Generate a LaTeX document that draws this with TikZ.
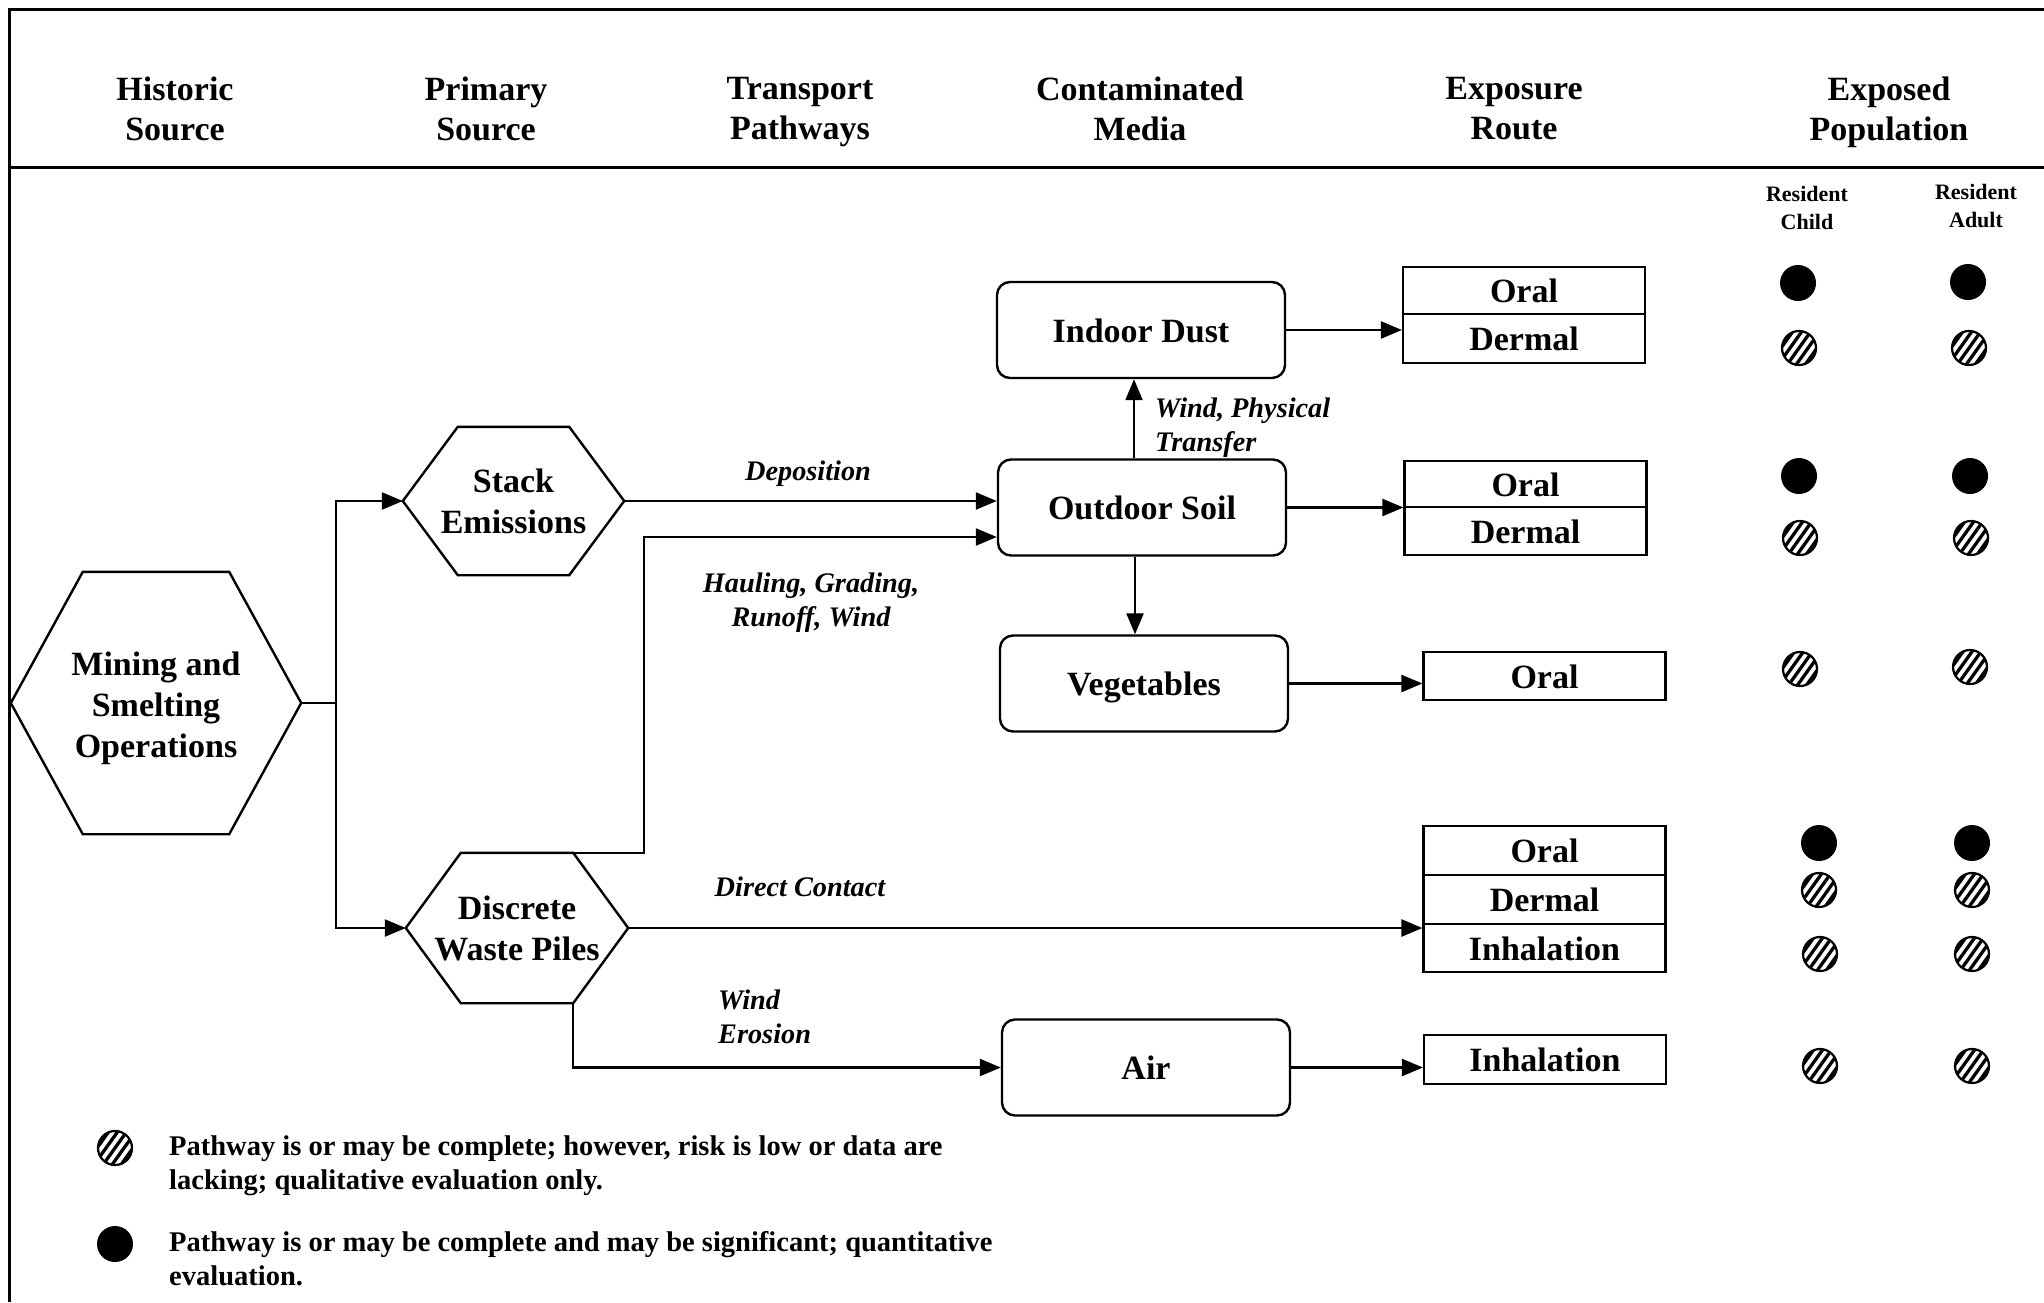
\documentclass[tikz,border=0pt]{standalone}
\usepackage{fontspec}
\setmainfont{Liberation Serif}
\usetikzlibrary{arrows.meta,calc}
\begin{document}
\begin{tikzpicture}[x=1pt,y=-1pt,
  every node/.style={inner sep=0pt},
  frame/.style={line width=3pt},
  hdr/.style={font=\fontsize{34}{40}\selectfont\bfseries, align=center, anchor=north},
  hexnode/.style={font=\fontsize{34}{41}\selectfont\bfseries, align=center},
  hexline/.style={line width=2.4pt, line join=miter},
  media/.style={draw, line width=2.4pt, rounded corners=13pt, minimum width=288pt, minimum height=96pt,
    font=\fontsize{34}{40}\selectfont\bfseries, text height=27pt, text depth=3pt},
  route/.style={draw, line width=2.2pt, minimum width=242pt,
    font=\fontsize{34}{40}\selectfont\bfseries, text height=27pt, text depth=3pt},
  lbl/.style={font=\fontsize{28.3}{34}\selectfont\bfseries\itshape},
  res/.style={font=\fontsize{22}{28}\selectfont\bfseries, align=center},
  leg/.style={font=\fontsize{28.5}{34}\selectfont\bfseries, align=left, anchor=west},
  conn/.style={line width=2.4pt},
  arr/.style={line width=2.4pt, -{Triangle[length=21pt,width=17pt]}},
  dotfull/.style={circle, fill=black, minimum size=36pt},
  dothatch/.style={circle, draw, line width=2.2pt, minimum size=34pt,
    path picture={\foreach \k in {-4,...,4}{\draw[line width=3.3pt]
      ($(path picture bounding box.center)+(\k*9,0)+(-15,21)$) -- ++(30,-42);}}}
]
\useasboundingbox (0,0) rectangle (2044,1302);
\fill[white] (0,0) rectangle (2044,1302);
% frame
\draw[frame] (2044,9) -- (9,9) -- (9,1302);
\draw[frame] (9,167) -- (2044,167);
% headers
\node[hdr] (h1) at (175,77) {Historic\\Source};
\node[hdr] (h2) at (486,77) {Primary\\Source};
\node[hdr] (h3) at (800,77) {Transport\\Pathways};
\node[hdr] (h4) at (1140,77) {Contaminated\\Media};
\node[hdr] (h5) at (1514,77) {Exposure\\Route};
\node[hdr] (h6) at (1889,77) {Exposed\\Population};
% hexagons
\node[hexnode, minimum width=290pt, minimum height=262pt] (mine) at (156,703) {\rule{0pt}{34pt}Mining and\\Smelting\\Operations};
\draw[hexline] (mine.west) -- ([xshift=72pt]mine.north west) -- ([xshift=-72pt]mine.north east) -- (mine.east)
  -- ([xshift=-72pt]mine.south east) -- ([xshift=72pt]mine.south west) -- cycle;
\node[hexnode, minimum width=221pt, minimum height=148pt] (stack) at (513.5,501) {Stack\\Emissions};
\draw[hexline] (stack.west) -- ([xshift=55pt]stack.north west) -- ([xshift=-55pt]stack.north east) -- (stack.east)
  -- ([xshift=-55pt]stack.south east) -- ([xshift=55pt]stack.south west) -- cycle;
\node[hexnode, minimum width=222pt, minimum height=150pt] (disc) at (517,928) {Discrete\\Waste Piles};
\draw[hexline] (disc.west) -- ([xshift=55pt]disc.north west) -- ([xshift=-55pt]disc.north east) -- (disc.east)
  -- ([xshift=-55pt]disc.south east) -- ([xshift=55pt]disc.south west) -- cycle;
% media
\node[media] (dust) at (1141,330) {Indoor Dust};
\node[media] (soil) at (1142,507.5) {Outdoor Soil};
\node[media] (veg) at (1144,683.5) {Vegetables};
\node[media] (air) at (1146,1067.5) {Air};
% routes
\node[route, minimum height=47pt] (r1o) at (1524,290.5) {Oral};
\node[route, minimum height=49pt] (r1d) at (1524,338.5) {Dermal};
\node[route, minimum height=46pt] (r2o) at (1525.5,484) {Oral};
\node[route, minimum height=48pt] (r2d) at (1525.5,531) {Dermal};
\node[route, minimum height=48pt] (r3o) at (1544.5,676) {Oral};
\node[route, minimum height=49pt] (r4o) at (1544.5,850.5) {Oral};
\node[route, minimum height=49pt] (r4d) at (1544.5,899.5) {Dermal};
\node[route, minimum height=48pt] (r4i) at (1544.5,948) {Inhalation};
\node[route, minimum height=49pt] (r5i) at (1545,1059.5) {Inhalation};
% connectors
\draw[conn] (mine.east) -- ++(35,0) coordinate (mj);
\draw[arr] (mj) |- (stack.west);
\draw[arr] (mj) |- (disc.west);
\draw[arr] (stack.east) -- (stack.east -| soil.west);
\coordinate (hb) at (644,537);
\draw[arr] ([xshift=-55pt]disc.north east) -| (hb) -- (hb -| soil.west);
\draw[arr] (disc.east) -- (disc.east -| r4d.west);
\draw[arr] ([xshift=-55pt]disc.south east) |- (air.west);
\coordinate (su) at ([xshift=-8pt]soil.north);
\draw[arr] (su) -- (su |- dust.south);
\coordinate (sd) at ([xshift=-7pt]soil.south);
\draw[arr] (sd) -- (sd |- veg.north);
\draw[arr] (dust.east) -- (dust.east -| r1d.west);
\draw[arr] (soil.east) -- (soil.east -| r2d.west);
\draw[arr] (veg.east) -- (veg.east -| r3o.west);
\draw[arr] (air.east) -- (air.east -| r5i.west);
% labels
\node[lbl] (ldep) at (808,474) {Deposition};
\node[lbl, align=center] (lhaul) at (811,603) {Hauling, Grading,\\Runoff, Wind};
\node[lbl, align=left, anchor=west] (lwind) at (1155,428) {Wind, Physical\\Transfer};
\node[lbl] (ldc) at (800,887) {Direct Contact};
\node[lbl, align=left, anchor=west] (lwe) at (718,1017) {Wind\\Erosion};
% population
\node[res] (rc) at (1807,208) {Resident\\Child};
\node[res] (ra) at (1976,206) {Resident\\Adult};
\node[dotfull] (c1) at (1798,283) {};   \node[dotfull] (a1) at (1968,282) {};
\node[dothatch] (c2) at (1799,348) {};  \node[dothatch] (a2) at (1969,348) {};
\node[dotfull] (c3) at (1799,476) {};   \node[dotfull] (a3) at (1970,476) {};
\node[dothatch] (c4) at (1800,538) {};  \node[dothatch] (a4) at (1971,538) {};
\node[dothatch] (c5) at (1800,669) {};  \node[dothatch] (a5) at (1970,667) {};
\node[dotfull] (c6) at (1819,843) {};   \node[dotfull] (a6) at (1972,843) {};
\node[dothatch] (c7) at (1819,890) {};  \node[dothatch] (a7) at (1972,890) {};
\node[dothatch] (c8) at (1820,954) {};  \node[dothatch] (a8) at (1972,954) {};
\node[dothatch] (c9) at (1820,1066) {}; \node[dothatch] (a9) at (1972,1066) {};
% legend
\node[dothatch] (lg1) at (115,1148) {};
\node[leg] (lt1) at (169,1166) {Pathway is or may be complete; however, risk is low or data are\\lacking; qualitative evaluation only.};
\node[dotfull] (lg2) at (115,1244) {};
\node[leg] (lt2) at (169,1259) {Pathway is or may be complete and may be significant; quantitative\\evaluation.};
\end{tikzpicture}
\end{document}
